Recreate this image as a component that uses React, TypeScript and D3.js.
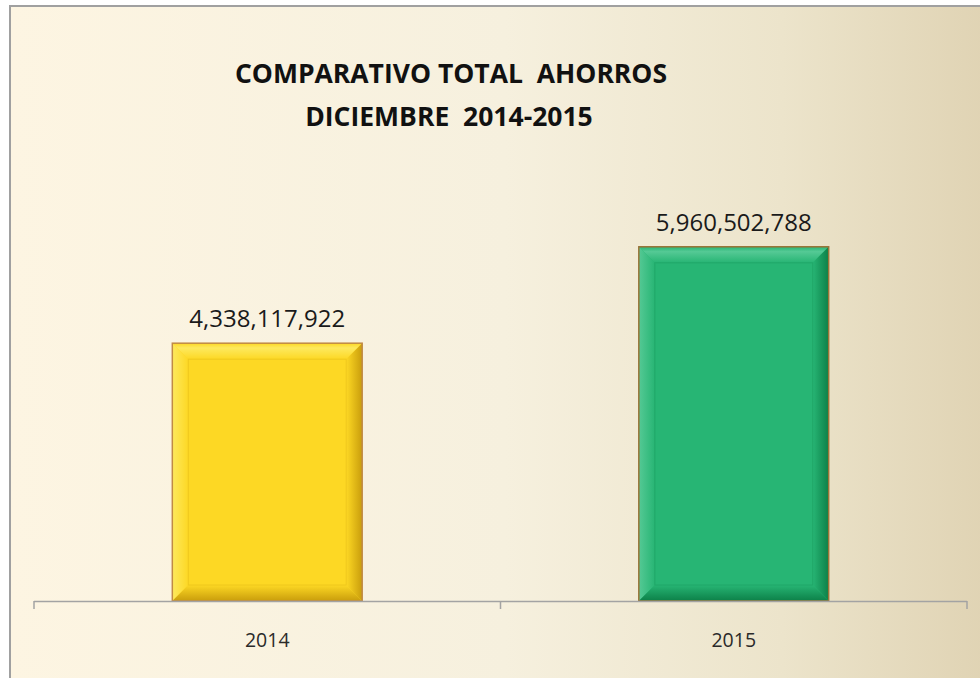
import React from "react";
import * as d3 from "d3";

const categories = ["2014", "2015"];
const values = [4338117922, 5960502788];
const titleLines = ["COMPARATIVO TOTAL  AHORROS", "DICIEMBRE  2014-2015"];
const barBase = ["#fdd824", "#27b574"];
const barLight = ["#fde95e", "#55c995"];
const barDark = ["#c99d0c", "#0c8048"];
const barEdge = ["#c08a45", "#9a7438"];

const W = 980;
const H = 678;

export default function App() {
  const x = d3.scaleBand<string>().domain(categories).range([34, 967]).paddingInner(0).paddingOuter(0);
  const y = d3.scaleLinear().domain([0, 7e9]).range([601, 185]);
  const fmt = d3.format(",");
  const bw = x.bandwidth() * 0.407;
  const bev = 16;
  const ticks = [...categories.map((c) => x(c) as number), 967];

  return (
    <svg width={W} height={H} style={{ position: "absolute", left: 0, top: 0, display: "block" }}>
      <defs>
        <linearGradient id="bg" x1="0" x2="1" y1="0" y2="0">
          <stop offset="0" stopColor="#fdf5e2" />
          <stop offset="0.5" stopColor="#f6f0de" />
          <stop offset="0.78" stopColor="#ece4cb" />
          <stop offset="1" stopColor="#dfd2b2" />
        </linearGradient>
        {categories.map((c, i) => (
          <React.Fragment key={c}>
            <linearGradient id={`top${i}`} x1="0" x2="0" y1="0" y2="1">
              <stop offset="0" stopColor={barBase[i]} />
              <stop offset="0.3" stopColor={barLight[i]} />
              <stop offset="1" stopColor={barBase[i]} />
            </linearGradient>
            <linearGradient id={`right${i}`} x1="0" x2="1" y1="0" y2="0">
              <stop offset="0" stopColor={barBase[i]} />
              <stop offset="1" stopColor={barDark[i]} />
            </linearGradient>
            <linearGradient id={`bot${i}`} x1="0" x2="0" y1="0" y2="1">
              <stop offset="0" stopColor={barBase[i]} />
              <stop offset="1" stopColor={barDark[i]} />
            </linearGradient>
            <linearGradient id={`left${i}`} x1="0" x2="1" y1="0" y2="0">
              <stop offset="0" stopColor={barLight[i]} />
              <stop offset="1" stopColor={barBase[i]} />
            </linearGradient>
          </React.Fragment>
        ))}
      </defs>
      <rect x={0} y={0} width={W} height={H} fill="#ffffff" />
      <rect x={10} y={6} width={W + 10} height={H + 10} fill="url(#bg)" stroke="#a0a0a0" strokeWidth={2} />

      <g fontFamily="'Open Sans', sans-serif" fontWeight="bold" fill="#111" textAnchor="middle">
        <text x={451} y={83} fontSize={26.5} style={{ whiteSpace: "pre" }}>{titleLines[0]}</text>
        <text x={449} y={126} fontSize={26.5} style={{ whiteSpace: "pre" }}>{titleLines[1]}</text>
      </g>

      {categories.map((c, i) => {
        const cx = (x(c) as number) + x.bandwidth() / 2;
        const x0 = cx - bw / 2;
        const x1 = cx + bw / 2;
        const y0 = y(values[i]);
        const y1 = y(0);
        const pts = (a: number[][]) => a.map((p) => p.join(",")).join(" ");
        return (
          <g key={c}>
            <rect x={x0} y={y0} width={bw} height={y1 - y0} fill={barBase[i]} />
            <polygon points={pts([[x0, y0], [x1, y0], [x1 - bev, y0 + bev], [x0 + bev, y0 + bev]])} fill={`url(#top${i})`} />
            <polygon points={pts([[x0, y0], [x0 + bev, y0 + bev], [x0 + bev, y1 - bev], [x0, y1]])} fill={`url(#left${i})`} />
            <polygon points={pts([[x1, y0], [x1, y1], [x1 - bev, y1 - bev], [x1 - bev, y0 + bev]])} fill={`url(#right${i})`} />
            <polygon points={pts([[x0, y1], [x0 + bev, y1 - bev], [x1 - bev, y1 - bev], [x1, y1]])} fill={`url(#bot${i})`} />
            <rect x={x0 + bev} y={y0 + bev} width={bw - 2 * bev} height={y1 - y0 - 2 * bev} fill="none" stroke={barDark[i]} strokeOpacity={0.25} strokeWidth={1} />
            <rect x={x0} y={y0} width={bw} height={y1 - y0} fill="none" stroke={barEdge[i]} strokeWidth={1.5} />
            <text x={cx} y={y0 - 16} textAnchor="middle" fontFamily="'Open Sans', sans-serif" fontSize={24} fill="#1a1a1a">
              {fmt(values[i])}
            </text>
            <text x={cx} y={647} textAnchor="middle" fontFamily="'Open Sans', sans-serif" fontSize={19.5} fill="#2a2a2a">
              {c}
            </text>
          </g>
        );
      })}

      <line x1={34} x2={967} y1={601.5} y2={601.5} stroke="#a3a3a3" strokeWidth={1.5} />
      {ticks.map((t, i) => (
        <line key={i} x1={t} x2={t} y1={601} y2={609} stroke="#a3a3a3" strokeWidth={1.5} />
      ))}
    </svg>
  );
}
